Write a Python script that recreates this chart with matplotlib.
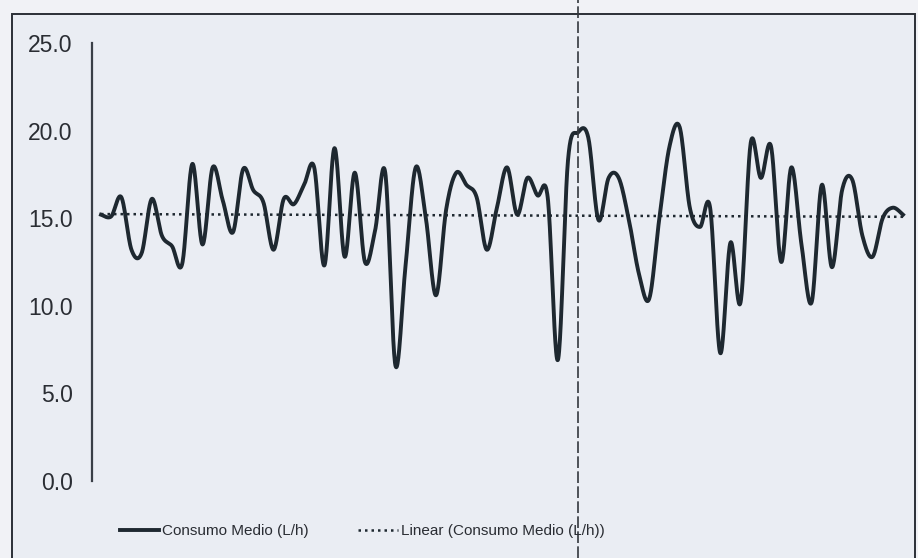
import numpy as np
import matplotlib
matplotlib.use("Agg")
import matplotlib.pyplot as plt
from matplotlib.lines import Line2D
from matplotlib.patches import Rectangle

plt.rcParams["font.family"] = ["Liberation Sans", "DejaVu Sans"]

# Average consumption per period (L/h)
consumo = [
    15.2, 15.1, 16.2, 13.2, 13.0, 16.1, 14.0, 13.4, 12.4, 18.1,
    13.5, 17.9, 16.0, 14.2, 17.8, 16.6, 15.9, 13.2, 16.1, 15.8,
    16.9, 17.9, 12.3, 19.0, 12.8, 17.6, 12.5, 14.3, 17.6, 6.6,
    12.3, 17.9, 15.0, 10.6, 15.5, 17.6, 16.9, 16.2, 13.2, 15.6,
    17.9, 15.2, 17.3, 16.3, 16.2, 6.9, 18.3, 19.9, 19.6, 14.9,
    17.3, 17.3, 14.9, 11.8, 10.4, 15.0, 19.1, 20.2, 15.6, 14.5,
    15.6, 7.3, 13.6, 10.2, 19.3, 17.3, 19.1, 12.5, 17.9, 13.5,
    10.2, 16.9, 12.2, 16.6, 17.2, 14.0, 12.8, 15.0, 15.6, 15.2,
]
y_ticks = [0, 5, 10, 15, 20, 25]
serie_label = "Consumo Medio (L/h)"
trend_label = "Linear (Consumo Medio (L/h))"

x = np.arange(len(consumo), dtype=float)
y = np.asarray(consumo, dtype=float)


def smooth_curve(xs, ys, steps=24):
    """Bezier smoothing through every point (Catmull-Rom style)."""
    px = np.concatenate([[xs[0]], xs, [xs[-1]]])
    py = np.concatenate([[ys[0]], ys, [ys[-1]]])
    out_x, out_y = [], []
    t = np.linspace(0, 1, steps, endpoint=False)
    for i in range(1, len(px) - 2):
        p0x, p1x, p2x, p3x = px[i - 1], px[i], px[i + 1], px[i + 2]
        p0y, p1y, p2y, p3y = py[i - 1], py[i], py[i + 1], py[i + 2]
        b1x, b1y = p1x + (p2x - p0x) / 6, p1y + (p2y - p0y) / 6
        b2x, b2y = p2x - (p3x - p1x) / 6, p2y - (p3y - p1y) / 6
        a = (1 - t) ** 3
        b = 3 * (1 - t) ** 2 * t
        c = 3 * (1 - t) * t ** 2
        d = t ** 3
        out_x.append(a * p1x + b * b1x + c * b2x + d * p2x)
        out_y.append(a * p1y + b * b1y + c * b2y + d * p2y)
    out_x.append([xs[-1]])
    out_y.append([ys[-1]])
    return np.concatenate(out_x), np.concatenate(out_y)


W, H = 918, 558
fig = plt.figure(figsize=(W / 100, H / 100), dpi=100)
fig.patch.set_facecolor("#f1f2f6")

# chart area with its border
fig.add_artist(Rectangle((12 / W, -0.05), (915 - 12) / W, (H - 14) / H + 0.05,
                         transform=fig.transFigure, facecolor="#eaedf3",
                         edgecolor="#2b2f36", linewidth=1.4, zorder=0))

ax_left, ax_right = 92, 912
ax_top, ax_bottom = 43, 481
ax = fig.add_axes([ax_left / W, (H - ax_bottom) / H,
                   (ax_right - ax_left) / W, (ax_bottom - ax_top) / H])
ax.set_facecolor("none")

px_per_step = (903 - 101) / (len(consumo) - 1)
ax.set_xlim(-(101 - ax_left) / px_per_step,
            (len(consumo) - 1) + (ax_right - 903) / px_per_step)
ax.set_ylim(0, 25)

sx, sy = smooth_curve(x, y)
line, = ax.plot(sx, sy, color="#1e2830", linewidth=2.8, solid_joinstyle="round",
                label=serie_label, zorder=3)

slope, intercept = np.polyfit(x, y, 1)
trend, = ax.plot(x, slope * x + intercept, color="#1e2830", linewidth=1.8,
                 linestyle=(0, (1, 1.6)), label=trend_label, zorder=2)

ax.set_yticks(y_ticks)
ax.set_yticklabels([f"{v:.1f}" for v in y_ticks], fontsize=16.5, color="#2a2d33")
ax.tick_params(axis="y", length=0, pad=14)
ax.set_xticks([])
for side in ("top", "right", "bottom"):
    ax.spines[side].set_visible(False)
ax.spines["left"].set_color("#3a3f47")
ax.spines["left"].set_linewidth(1.6)

fig.legend(handles=[line, trend], loc="center", ncol=2, frameon=False,
           bbox_to_anchor=(362 / W, (H - 531) / H), fontsize=11,
           handlelength=2.6, handletextpad=0.2, columnspacing=3.2,
           labelcolor="#2a2d33")

# crease running down the sheet
fig.add_artist(Line2D([578 / W, 578 / W], [0, 1], transform=fig.transFigure,
                      color="#33373d", linewidth=1.2, linestyle=(0, (7, 2)),
                      zorder=5))

fig.savefig("out.png", dpi=100, facecolor=fig.get_facecolor())
